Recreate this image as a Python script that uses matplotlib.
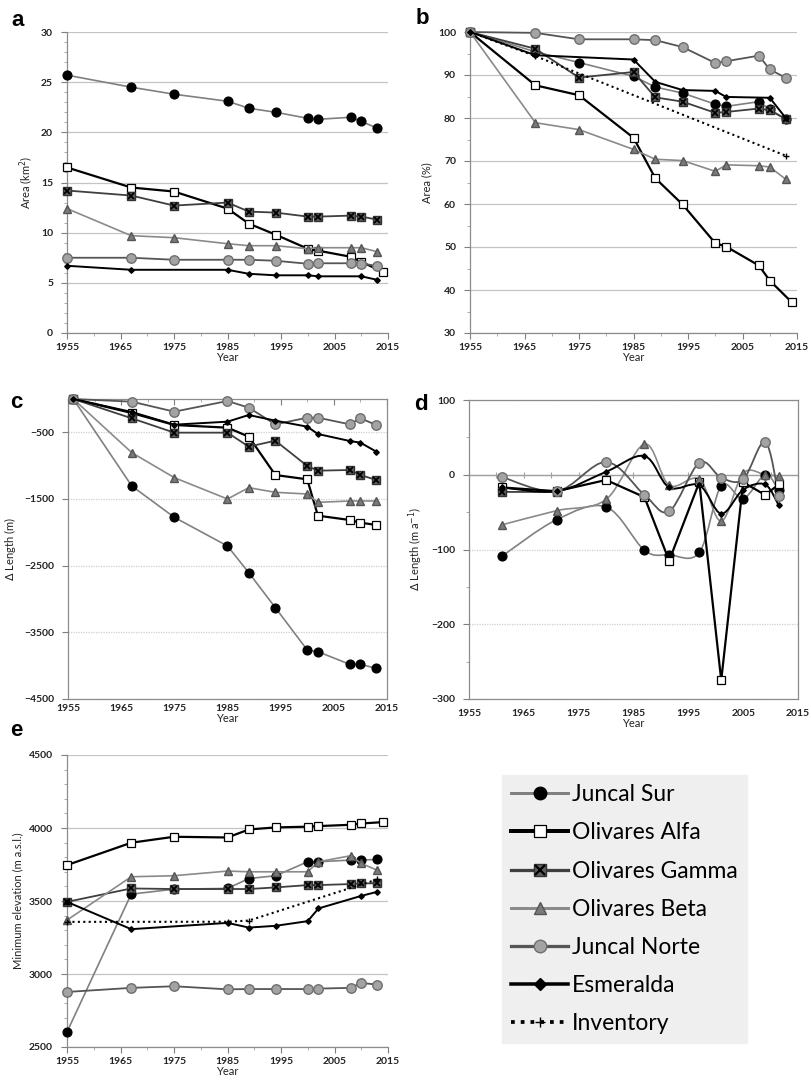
import matplotlib
matplotlib.use("Agg")
import matplotlib.pyplot as plt
from matplotlib.path import Path
from matplotlib.patches import PathPatch
from matplotlib.lines import Line2D
from matplotlib.legend_handler import HandlerTuple

plt.rcParams['font.family'] = ['Lato', 'DejaVu Sans']

# survey years
yrs = [1955, 1967, 1975, 1985, 1989, 1994, 2000, 2002, 2008, 2010, 2013]
yrs_alfa = [1955, 1967, 1975, 1985, 1989, 1994, 2000, 2002, 2008, 2010, 2014]
yrs_esm = [1955, 1967, 1985, 1989, 1994, 2000, 2002, 2010, 2013]
yrs_c = [1956, 1967, 1975, 1985, 1989, 1994, 2000, 2002, 2008, 2010, 2013]
yrs_d = [1961, 1971, 1980, 1987, 1991.5, 1997, 2001, 2005, 2009, 2011.5]

# a: area (km2)
a_js = [25.7, 24.5, 23.8, 23.1, 22.4, 22.0, 21.4, 21.3, 21.5, 21.1, 20.4]
a_alfa = [16.5, 14.5, 14.1, 12.4, 10.9, 9.8, 8.4, 8.2, 7.6, 7.1, 6.1]
a_gamma = [14.2, 13.7, 12.7, 13.0, 12.1, 12.0, 11.6, 11.6, 11.7, 11.6, 11.3]
a_beta = [12.4, 9.7, 9.5, 8.9, 8.7, 8.7, 8.4, 8.5, 8.5, 8.5, 8.1]
a_norte = [7.5, 7.5, 7.3, 7.3, 7.3, 7.2, 6.9, 6.95, 6.95, 6.9, 6.7]
a_esm = [6.7, 6.3, 6.3, 5.9, 5.75, 5.75, 5.65, 5.65, 5.3]

# b: area (%)
b_js = [100, 95.4, 92.9, 89.7, 87.2, 85.8, 83.2, 82.7, 83.8, 82.0, 79.7]
b_alfa = [100, 87.6, 85.3, 75.4, 66.0, 59.9, 50.9, 50.1, 45.7, 42.2, 37.2]
b_gamma = [100, 96.1, 89.4, 90.7, 84.8, 83.8, 81.2, 81.4, 82.2, 81.8, 79.7]
b_beta = [100, 78.9, 77.3, 72.7, 70.4, 70.1, 67.6, 69.1, 68.9, 68.6, 65.7]
b_norte = [100, 99.8, 98.3, 98.3, 98.1, 96.5, 92.8, 93.2, 94.5, 91.3, 89.3]
b_esm = [100, 94.6, 93.6, 88.4, 86.5, 86.3, 84.9, 84.7, 79.9]
b_inv_yrs = [1955, 1967, 2013]
b_inv = [100, 94.4, 71.2]

# c: cumulative length change (m)
c_js = [0, -1305, -1775, -2205, -2605, -3130, -3765, -3790, -3980, -3980, -4040]
c_alfa = [0, -210, -390, -430, -565, -1140, -1205, -1750, -1815, -1855, -1890]
c_gamma = [0, -290, -505, -505, -715, -625, -1005, -1075, -1065, -1140, -1215]
c_beta = [0, -805, -1180, -1500, -1330, -1400, -1425, -1550, -1530, -1530, -1530]
c_norte = [0, -40, -190, -30, -130, -380, -280, -280, -380, -290, -390]
c_esm = [0, -195, -385, -340, -240, -325, -415, -525, -630, -655, -790]

# d: length change rate (m/a)
d_js = [-109, -60, -43, -101, -107, -104, -15, -32, 0, -21]
d_alfa = [-17, -22, -7, -30, -115, -10, -275, -10, -27, -13]
d_gamma_yrs = [1961, 1971]
d_gamma = [-23, -23]
d_beta = [-67, -48, -33, 41, -14, -6, -62, 2, 0, -2]
d_norte = [-3, -22, 17, -27, -49, 16, -4, -6, 44, -29]
d_esm = [-17, -22, 4, 25, -17, -14, -52, -20, -13, -41]

# e: minimum elevation (m a.s.l.)
e_js = [2603, 3547, 3581, 3586, 3654, 3673, 3769, 3769, 3780, 3780, 3785]
e_alfa = [3746, 3899, 3940, 3935, 3990, 4004, 4009, 4013, 4022, 4031, 4040]
e_gamma = [3494, 3586, 3582, 3582, 3582, 3593, 3609, 3609, 3616, 3620, 3622]
e_beta = [3369, 3666, 3673, 3705, 3700, 3700, 3700, 3769, 3810, 3757, 3711]
e_norte = [2877, 2905, 2916, 2895, 2897, 2897, 2897, 2900, 2905, 2939, 2927]
e_esm = [3494, 3307, 3350, 3318, 3330, 3362, 3449, 3535, 3563]
e_inv_yrs = [1955, 1985, 1989, 2013]
e_inv = [3357, 3358, 3366, 3648]

names = ['Juncal Sur', 'Olivares Alfa', 'Olivares Gamma', 'Olivares Beta',
         'Juncal Norte', 'Esmeralda', 'Inventory']

sty = {
    'js': dict(color='#808080', lw=1.2, marker='o', mfc='black', mec='black', ms=6.3),
    'alfa': dict(color='black', lw=1.6, marker='s', mfc='white', mec='black', ms=6.3, mew=0.9),
    'gamma': dict(color='#3f3f3f', lw=1.3, marker='s', mfc='#5f5f5f', mec='#333333', ms=6.3),
    'beta': dict(color='#8a8a8a', lw=1.2, marker='^', mfc='#7a7a7a', mec='#555555', ms=6.3),
    'norte': dict(color='#555555', lw=1.3, marker='o', mfc='#a3a3a3', mec='#6e6e6e', ms=6.8),
    'esm': dict(color='black', lw=1.4, marker='D', mfc='black', mec='black', ms=2.8),
    'inv': dict(color='black', lw=1.5, ls=(0, (1, 1.6)), marker='+', mfc='black', mec='black', ms=5, mew=1),
}


def smooth(ax, x, y, s):
    # Excel-like smoothed line: Catmull-Rom as cubic Bezier segments
    verts = [(x[0], y[0])]
    codes = [Path.MOVETO]
    n = len(x)
    for i in range(n - 1):
        x0, y0 = (x[i - 1], y[i - 1]) if i > 0 else (x[i], y[i])
        x3, y3 = (x[i + 2], y[i + 2]) if i + 2 < n else (x[i + 1], y[i + 1])
        c1 = (x[i] + (x[i + 1] - x0) / 6, y[i] + (y[i + 1] - y0) / 6)
        c2 = (x[i + 1] - (x3 - x[i]) / 6, y[i + 1] - (y3 - y[i]) / 6)
        verts += [c1, c2, (x[i + 1], y[i + 1])]
        codes += [Path.CURVE4] * 3
    ax.add_patch(PathPatch(Path(verts, codes), fill=False, edgecolor=s['color'],
                           lw=s['lw'], zorder=2))


def series(ax, key, x, y, curved=False):
    s = dict(sty[key])
    if curved:
        smooth(ax, x, y, s)
        s['ls'] = 'none'
    ax.plot(x, y, zorder=3, clip_on=False, **s)
    if key == 'gamma':
        ax.plot(x, y, ls='none', marker='x', color='black', ms=4.5, mew=1.3,
                zorder=3, clip_on=False)


def setup(ax, ylim, yticks, minor, ylabel, boxed=False):
    ax.set_xlim(1955, 2015)
    ax.set_ylim(*ylim)
    ax.set_xticks(range(1955, 2016, 10))
    ax.set_xticks(range(1960, 2015, 10), minor=True)
    ax.set_yticks(yticks)
    ax.set_yticks(minor, minor=True)
    for lab in ax.get_xticklabels() + ax.get_yticklabels():
        lab.set_fontweight('bold')
    ax.tick_params(axis='both', which='major', labelsize=7.5, colors='#7f7f7f',
                   labelcolor='#222222', length=4, width=0.8)
    ax.tick_params(axis='both', which='minor', colors='#9f9f9f', length=2.5, width=0.6)
    ax.tick_params(axis='y', pad=6)
    ax.set_xlabel('Year', fontsize=8, labelpad=0, color='#222222')
    ax.set_ylabel(ylabel, fontsize=8, color='#222222')
    for sp in ax.spines.values():
        sp.set_color('#8c8c8c')
        sp.set_linewidth(0.9)
    if not boxed:
        ax.spines['top'].set_visible(False)
        ax.spines['right'].set_visible(False)


fig = plt.figure(figsize=(8.12, 10.82), dpi=100)
W, H = 812, 1082


def axes_px(x0, y0, x1, y1):
    return fig.add_axes([x0 / W, 1 - y1 / H, (x1 - x0) / W, (y1 - y0) / H])


# ---- a
ax = axes_px(67, 32, 388, 333)
setup(ax, (0, 30), range(0, 31, 5), [v for v in range(0, 30) if v % 5], 'Area (km$^2$)')
ax.yaxis.grid(True, color='#c4c4c4', lw=0.9)
ax.set_axisbelow(True)
series(ax, 'js', yrs, a_js)
series(ax, 'alfa', yrs_alfa, a_alfa)
series(ax, 'gamma', yrs, a_gamma)
series(ax, 'beta', yrs, a_beta)
series(ax, 'norte', yrs, a_norte)
series(ax, 'esm', yrs_esm, a_esm)

# ---- b
ax = axes_px(470, 32, 797, 333)
setup(ax, (30, 100), range(30, 101, 10), range(35, 100, 10), 'Area (%)')
ax.yaxis.grid(True, color='#c4c4c4', lw=0.9)
ax.set_axisbelow(True)
series(ax, 'js', yrs, b_js)
series(ax, 'alfa', yrs_alfa, b_alfa)
series(ax, 'gamma', yrs, b_gamma)
series(ax, 'beta', yrs, b_beta)
series(ax, 'norte', yrs, b_norte)
series(ax, 'esm', yrs_esm, b_esm)
series(ax, 'inv', b_inv_yrs, b_inv)

# ---- c
ax = axes_px(68, 399, 387, 699)
setup(ax, (-4500, 0), range(-4500, 0, 1000), [], '$\\Delta$ Length (m)', boxed=True)
ax.yaxis.grid(True, color='#cfcfcf', lw=0.9, ls=(0, (1, 1)))
ax.set_axisbelow(True)
ax.tick_params(axis='x', which='both', top=True, bottom=False, direction='in')
series(ax, 'js', yrs_c, c_js)
series(ax, 'alfa', yrs_c, c_alfa)
series(ax, 'gamma', yrs_c, c_gamma)
series(ax, 'beta', yrs_c, c_beta)
series(ax, 'norte', yrs_c, c_norte)
series(ax, 'esm', yrs_c, c_esm)

# ---- d
ax = axes_px(469, 400, 798, 699)
setup(ax, (-300, 100), range(-300, 101, 100), range(-250, 100, 100),
      '$\\Delta$ Length (m a$^{-1}$)', boxed=True)
ax.yaxis.grid(True, color='#cfcfcf', lw=0.9, ls=(0, (1, 1)))
ax.set_axisbelow(True)
ax.tick_params(axis='x', which='both', bottom=False)
ax.axhline(0, color='#a0a0a0', lw=1.0, zorder=1)
sec = ax.secondary_xaxis(0.75)
sec.set_xticks(range(1955, 2016, 5))
sec.tick_params(axis='x', direction='inout', length=4, colors='#a0a0a0', labelbottom=False,
                labeltop=False)
sec.spines['bottom'].set_visible(False)
sec.spines['top'].set_visible(False)
series(ax, 'js', yrs_d, d_js, curved=True)
series(ax, 'alfa', yrs_d, d_alfa)
series(ax, 'gamma', d_gamma_yrs, d_gamma, curved=True)
series(ax, 'beta', yrs_d, d_beta, curved=True)
series(ax, 'norte', yrs_d, d_norte, curved=True)
series(ax, 'esm', yrs_d, d_esm, curved=True)

# ---- e
ax = axes_px(67, 755, 388, 1047)
setup(ax, (2500, 4500), range(2500, 4501, 500), range(2600, 4500, 100),
      'Minimum elevation (m a.s.l.)')
ax.yaxis.grid(True, color='#c4c4c4', lw=0.9)
ax.set_axisbelow(True)
series(ax, 'js', yrs, e_js)
series(ax, 'alfa', yrs_alfa, e_alfa)
series(ax, 'gamma', yrs, e_gamma)
series(ax, 'beta', yrs, e_beta)
series(ax, 'norte', yrs, e_norte)
series(ax, 'esm', yrs_esm, e_esm)
series(ax, 'inv', e_inv_yrs, e_inv)

# panel letters
for lab, x, y in [('a', 18, 20), ('b', 422, 19), ('c', 16, 402), ('d', 421, 404), ('e', 16, 730)]:
    fig.text(x / W, 1 - y / H, lab, fontsize=16, fontweight='bold', ha='center', va='center',
             family=['Liberation Sans', 'DejaVu Sans'])

# legend
handles = []
for key in ['js', 'alfa', 'gamma', 'beta', 'norte', 'esm', 'inv']:
    s = dict(sty[key])
    s['ms'] = 9 if key != 'esm' else 6
    if key == 'inv':
        s['ms'] = 7
    s['lw'] = s['lw'] * 1.8
    h = Line2D([], [], **s)
    if key == 'gamma':
        h = (h, Line2D([], [], ls='none', marker='x', color='black', ms=6.5, mew=1.6))
    handles.append(h)
leg = fig.legend(handles, names, loc='upper left', bbox_to_anchor=(502 / W, 1 - 775 / H),
                 fontsize=16.5, frameon=True, fancybox=False, facecolor='#efefef',
                 edgecolor='#efefef', framealpha=1, borderaxespad=0, borderpad=0.4,
                 handlelength=2.5, handletextpad=0.15, labelspacing=0.75,
                 handler_map={tuple: HandlerTuple(ndivide=1)})

fig.savefig('out.png', dpi=100)
